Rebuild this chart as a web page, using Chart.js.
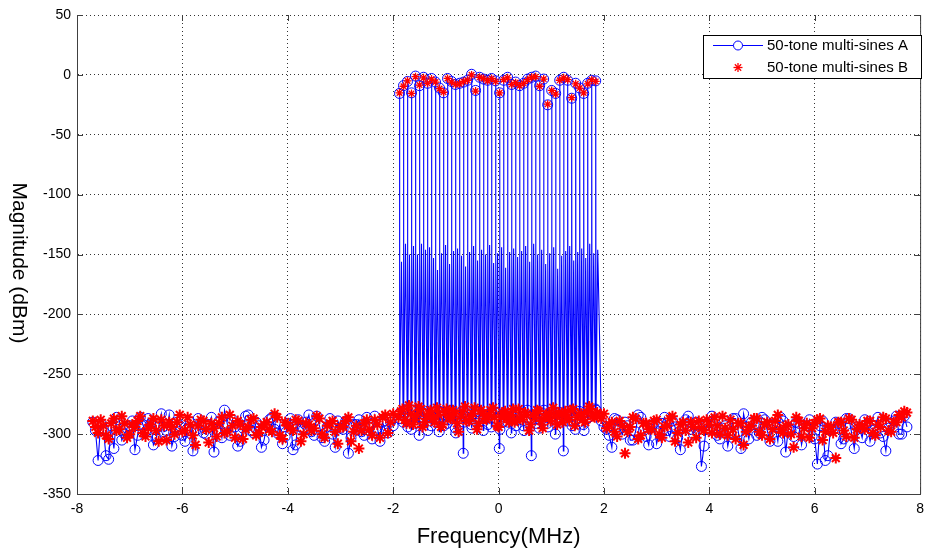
<!DOCTYPE html>
<html>
<head>
<meta charset="utf-8">
<script src="https://cdn.jsdelivr.net/npm/chart.js@4.4.1/dist/chart.umd.min.js"></script>
<style>
  html, body { margin: 0; padding: 0; background: #fff; }
</style>
</head>
<body>
<canvas id="chart1" width="931" height="556"></canvas>
<script>
// tone frequencies (MHz) and tone levels (dBm)
const toneFreq = [-1.880,-1.804,-1.728,-1.652,-1.576,-1.500,-1.424,-1.348,-1.272,-1.196,
  -1.120,-1.044,-0.968,-0.892,-0.816,-0.740,-0.664,-0.588,-0.512,-0.436,
  -0.360,-0.284,-0.208,-0.132,-0.056,0.020,0.096,0.172,0.248,0.324,
  0.400,0.476,0.552,0.628,0.704,0.780,0.856,0.932,1.008,1.084,
  1.160,1.236,1.312,1.388,1.464,1.540,1.616,1.692,1.768,1.844];
const toneA = [-15.5,-9,-5.5,-15,-1,-9,-2,-7,-3,-6,
  -11,-15,-3,-5.5,-8,-7,-6,-4.5,0.5,-13,
  -2,-3.5,-4.5,-3,-5,-15,-4.5,-2,-8,-6,
  -9,-7,-3.5,-2,-1,-9,-3.5,-25,-13,-15.5,
  -4.5,-2,-4.5,-19.5,-7,-11,-15.5,-7,-4.5,-5];
const toneB = [-15,-9.5,-5,-15.5,-1.5,-8.5,-2.5,-7,-3.5,-6,
  -11.5,-14.5,-3,-6,-8,-7.5,-5.5,-4.5,0,-13.5,
  -2,-3,-5,-3,-5.5,-15,-4,-2.5,-8,-6.5,
  -9,-7,-4,-2,-1.5,-9.5,-3.5,-24.5,-13,-16,
  -4.5,-2.5,-4,-19,-7.5,-11,-15,-7.5,-4,-5.5];
// leakage bins between the tones (series A)
const leakA = [-156,-141,-150,-143,-150,-141,-146,-144,-153,-163,
  -149,-142,-158,-147,-145,-151,-160,-148,-143,-155,
  -146,-150,-142,-157,-149,-144,-161,-148,-145,-152,
  -147,-143,-156,-141,-150,-146,-158,-149,-144,-162,
  -151,-147,-143,-155,-148,-145,-153,-141,-149,-146];
// noise floor bins inside the band (just below / above each tone)
const bandLowA = [-283,-290,-279,-296,-285,-301,-288,-281,-293,-286,
  -298,-284,-291,-280,-295,-287,-316,-283,-292,-289,
  -281,-297,-286,-294,-282,-312,-290,-285,-299,-284,
  -288,-293,-280,-318,-287,-295,-283,-291,-286,-300,
  -282,-314,-289,-285,-296,-281,-292,-287,-283,-279];
const bandLow2A = [-287,-282,-294,-280,-291,-286,-283,-297,-285,-290,
  -281,-293,-288,-284,-299,-282,-290,-286,-295,-283,
  -289,-284,-292,-281,-287,-296,-283,-290,-285,-293,
  -282,-297,-286,-284,-291,-288,-280,-294,-287,-283,
  -290,-285,-281,-293,-288,-284,-297,-286,-282,-280];
const bandLowB = [-281,-288,-276,-292,-284,-279,-290,-283,-287,-278,
  -294,-282,-286,-280,-291,-285,-277,-289,-283,-296,
  -280,-287,-284,-278,-293,-286,-281,-290,-279,-288,
  -285,-282,-297,-284,-280,-289,-286,-283,-278,-292,
  -284,-281,-288,-279,-286,-283,-290,-277,-285,-282];
const bandLowB2 = [-286,-279,-291,-283,-288,-277,-294,-285,-280,-290,
  -284,-292,-279,-287,-283,-298,-281,-289,-285,-278,
  -291,-283,-288,-280,-286,-294,-282,-287,-284,-290,
  -279,-288,-284,-292,-286,-281,-295,-283,-289,-285,
  -282,-290,-286,-280,-293,-284,-288,-282,-279,-286];
// noise floor outside the band, two interleaved frequency grids
const noiseFreqA = [-7.7,-7.6,-7.5,-7.4,-7.3,-7.2,-7.1,-7.0,-6.9,-6.8,
  -6.7,-6.6,-6.5,-6.4,-6.3,-6.2,-6.1,-6.0,-5.9,-5.8,
  -5.7,-5.6,-5.5,-5.4,-5.3,-5.2,-5.1,-5.0,-4.9,-4.8,
  -4.7,-4.6,-4.5,-4.4,-4.3,-4.2,-4.1,-4.0,-3.9,-3.8,
  -3.7,-3.6,-3.5,-3.4,-3.3,-3.2,-3.1,-3.0,-2.9,-2.8,
  -2.7,-2.6,-2.5,-2.4,-2.3,-2.2,-2.1,-2.0,
  1.95,2.05,2.15,2.25,2.35,2.45,2.55,2.65,2.75,2.85,
  2.95,3.05,3.15,3.25,3.35,3.45,3.55,3.65,3.75,3.85,
  3.95,4.05,4.15,4.25,4.35,4.45,4.55,4.65,4.75,4.85,
  4.95,5.05,5.15,5.25,5.35,5.45,5.55,5.65,5.75,5.85,
  5.95,6.05,6.15,6.25,6.35,6.45,6.55,6.65,6.75,6.85,
  6.95,7.05,7.15,7.25,7.35,7.45,7.55,7.65,7.75];
const noiseFreqB = [-7.65,-7.55,-7.45,-7.35,-7.25,-7.15,-7.05,-6.95,-6.85,-6.75,
  -6.65,-6.55,-6.45,-6.35,-6.25,-6.15,-6.05,-5.95,-5.85,-5.75,
  -5.65,-5.55,-5.45,-5.35,-5.25,-5.15,-5.05,-4.95,-4.85,-4.75,
  -4.65,-4.55,-4.45,-4.35,-4.25,-4.15,-4.05,-3.95,-3.85,-3.75,
  -3.65,-3.55,-3.45,-3.35,-3.25,-3.15,-3.05,-2.95,-2.85,-2.75,
  -2.65,-2.55,-2.45,-2.35,-2.25,-2.15,-2.05,
  2.0,2.1,2.2,2.3,2.4,2.5,2.6,2.7,2.8,2.9,
  3.0,3.1,3.2,3.3,3.4,3.5,3.6,3.7,3.8,3.9,
  4.0,4.1,4.2,4.3,4.4,4.5,4.6,4.7,4.8,4.9,
  5.0,5.1,5.2,5.3,5.4,5.5,5.6,5.7,5.8,5.9,
  6.0,6.1,6.2,6.3,6.4,6.5,6.6,6.7,6.8,6.9,
  7.0,7.1,7.2,7.3,7.4,7.5,7.6,7.7];
// series A noise on grid A and on grid B
const noiseA = [-290,-322,-296,-321,-312,-288,-300,-293,-313,-286,
  -298,-291,-304,-283,-297,-310,-290,-301,-295,-314,
  -287,-299,-292,-315,-289,-280,-301,-294,-306,-285,
  -297,-290,-311,-293,-286,-299,-308,-291,-313,-288,
  -296,-284,-301,-293,-306,-287,-311,-295,-289,-303,
  -292,-298,-286,-304,-295,-290,-299,-293,
  -289,-296,-311,-288,-300,-293,-305,-284,-297,-309,
  -291,-299,-286,-302,-294,-313,-288,-296,-290,-327,
  -292,-285,-301,-295,-310,-287,-298,-283,-304,-292,
  -299,-288,-306,-294,-286,-315,-297,-290,-309,-293,
  -302,-325,-289,-318,-296,-291,-304,-287,-312,-295,
  -288,-306,-293,-299,-314,-291,-285,-300,-294];
const noiseA2 = [-297,-291,-318,-293,-286,-305,-295,-289,-301,-292,
  -287,-309,-294,-298,-284,-302,-293,-306,-290,-297,
  -292,-300,-286,-296,-303,-291,-288,-310,-295,-284,
  -299,-293,-305,-288,-296,-292,-302,-287,-309,-294,
  -290,-298,-285,-303,-294,-300,-289,-296,-316,-292,
  -288,-301,-294,-285,-306,-297,-290,
  -294,-301,-287,-296,-290,-305,-298,-286,-302,-293,
  -308,-291,-297,-289,-303,-295,-285,-300,-292,-310,
  -296,-288,-304,-293,-299,-287,-312,-294,-290,-301,
  -286,-297,-292,-306,-289,-295,-302,-291,-298,-288,
  -304,-293,-322,-296,-290,-308,-287,-299,-294,-303,
  -291,-297,-286,-302,-295,-289,-300,-285];
// series B noise on grid B and on grid A
const noiseB = [-294,-288,-301,-291,-297,-285,-303,-292,-289,-299,
  -295,-287,-306,-293,-290,-300,-284,-297,-292,-309,
  -288,-296,-291,-302,-286,-298,-293,-289,-304,-294,
  -287,-299,-292,-296,-283,-301,-290,-295,-288,-306,
  -291,-297,-285,-300,-293,-289,-308,-294,-286,-298,
  -312,-291,-296,-288,-303,-284,-290,
  -283,-292,-298,-289,-316,-294,-287,-301,-291,-296,
  -288,-303,-293,-285,-299,-290,-307,-294,-289,-297,
  -292,-286,-300,-295,-288,-304,-291,-298,-293,-287,
  -301,-290,-296,-284,-299,-292,-311,-289,-295,-303,
  -291,-287,-298,-294,-320,-290,-302,-288,-296,-293,
  -289,-299,-292,-286,-297,-290,-284,-281];
const noiseB2 = [-289,-299,-293,-304,-287,-296,-291,-300,-294,-285,
  -302,-292,-297,-288,-305,-294,-290,-298,-286,-301,
  -293,-289,-307,-295,-291,-299,-284,-303,-292,-296,
  -288,-301,-294,-290,-298,-286,-304,-293,-297,-289,
  -300,-292,-295,-287,-303,-291,-298,-294,-289,-306,
  -293,-297,-288,-301,-292,-286,-299,-283,
  -287,-295,-290,-302,-293,-298,-286,-304,-291,-296,
  -289,-300,-294,-287,-306,-292,-297,-290,-303,-295,
  -288,-299,-293,-285,-301,-296,-291,-309,-294,-287,
  -298,-292,-304,-289,-296,-293,-300,-286,-302,-291,
  -295,-288,-305,-293,-299,-290,-297,-287,-303,-292,
  -296,-289,-301,-294,-287,-298,-290,-286,-282];

const labelA = '50-tone multi-sines A';
const labelB = '50-tone multi-sines B';

// series A: noise floor, then per tone: floor -> tone -> floor -> leakage bin
const ptsA = noiseFreqA.map((f, i) => ({x: f, y: noiseA[i]}))
    .concat(noiseFreqB.map((f, i) => ({x: f, y: noiseA2[i]})));
toneFreq.forEach((f, i) => {
    ptsA.push({x: f - 0.006, y: bandLowA[i]});
    ptsA.push({x: f, y: toneA[i]});
    ptsA.push({x: f + 0.006, y: bandLow2A[i]});
    ptsA.push({x: f + 0.038, y: leakA[i]});
});
ptsA.sort((a, b) => a.x - b.x);

const ptsB = noiseFreqB.map((f, i) => ({x: f, y: noiseB[i]}))
    .concat(noiseFreqA.map((f, i) => ({x: f, y: noiseB2[i]})));
toneFreq.forEach((f, i) => {
    ptsB.push({x: f, y: toneB[i]});
    ptsB.push({x: f - 0.019, y: bandLowB2[i]});
    ptsB.push({x: f + 0.028, y: bandLowB[i]});
});
ptsB.sort((a, b) => a.x - b.x);

const FONT = 'Liberation Sans, Arial, sans-serif';

function line(ctx, x1, y1, x2, y2) {
    ctx.beginPath();
    ctx.moveTo(x1, y1);
    ctx.lineTo(x2, y2);
    ctx.stroke();
}

function star(ctx, cx, cy, r) {
    const d = r * Math.SQRT1_2;
    line(ctx, cx - r, cy, cx + r, cy);
    line(ctx, cx, cy - r, cx, cy + r);
    line(ctx, cx - d, cy - d, cx + d, cy + d);
    line(ctx, cx - d, cy + d, cx + d, cy - d);
}

const overlay = {
    id: 'overlay',
    afterDraw(chart) {
        const {ctx, chartArea: a, scales: {x, y}} = chart;
        ctx.save();
        ctx.strokeStyle = '#404040';
        ctx.lineWidth = 1;
        line(ctx, a.right + 0.5, a.top, a.right + 0.5, a.bottom);

        // inward tick marks
        y.ticks.forEach(t => {
            const py = Math.round(y.getPixelForValue(t.value)) + 0.5;
            line(ctx, a.left, py, a.left + 6, py);
            line(ctx, a.right - 6, py, a.right, py);
        });
        x.ticks.forEach(t => {
            const px = Math.round(x.getPixelForValue(t.value)) + 0.5;
            line(ctx, px, a.bottom, px, a.bottom - 6);
            line(ctx, px, a.top, px, a.top + 6);
        });

        // axis titles
        ctx.fillStyle = '#000';
        ctx.textAlign = 'center';
        ctx.textBaseline = 'middle';
        ctx.font = '22px ' + FONT;
        ctx.fillText('Frequency(MHz)', (a.left + a.right) / 2, 537);
        ctx.save();
        ctx.translate(19, 263);
        ctx.rotate(Math.PI / 2);
        ctx.font = '21px ' + FONT;
        ctx.fillText('Magnitude (dBm)', 0, 0);
        ctx.restore();

        // legend box
        const lx = 703.5, ly = 35.5, lw = 218, lh = 43;
        ctx.fillStyle = '#fff';
        ctx.fillRect(lx, ly, lw, lh);
        ctx.strokeStyle = '#000';
        ctx.strokeRect(lx, ly, lw, lh);

        ctx.strokeStyle = '#0000ff';
        line(ctx, 713, 45.5, 763, 45.5);
        ctx.beginPath();
        ctx.arc(738, 45.5, 4.5, 0, Math.PI * 2);
        ctx.fillStyle = '#fff';
        ctx.fill();
        ctx.stroke();

        ctx.strokeStyle = '#ff0000';
        ctx.lineWidth = 1.3;
        star(ctx, 738, 67.5, 4.5);

        ctx.fillStyle = '#000';
        ctx.textAlign = 'left';
        ctx.font = '15px ' + FONT;
        ctx.fillText(labelA, 767, 46);
        ctx.fillText(labelB, 767, 68);
        ctx.restore();
    }
};

// tone markers stay small so the circles of A remain visible round them
const isTone = c => c.raw && c.raw.y > -100;

const ctx1 = document.getElementById('chart1').getContext('2d');
const chart1 = new Chart(ctx1, {
    type: 'scatter',
    data: {
        datasets: [{
            label: labelA,
            data: ptsA,
            showLine: true,
            borderColor: '#0000ff',
            borderWidth: 1.1,
            tension: 0,
            pointStyle: 'circle',
            pointRadius: c => (c.raw && c.raw.y > -250 && c.raw.y < -100) ? 0 : 5,
            pointBorderColor: '#0000ff',
            pointBackgroundColor: 'rgba(0,0,0,0)',
            pointBorderWidth: 1,
            order: 1
        }, {
            label: labelB,
            data: ptsB,
            showLine: false,
            pointStyle: 'star',
            pointRadius: c => isTone(c) ? 4 : 5.5,
            pointBorderColor: '#ff0000',
            pointBackgroundColor: '#ff0000',
            pointBorderWidth: c => isTone(c) ? 1.3 : 2,
            order: 0
        }]
    },
    options: {
        responsive: false,
        animation: false,
        events: [],
        layout: {
            padding: {left: 0, right: 5, top: 15, bottom: 0}
        },
        plugins: {
            legend: {display: false},
            tooltip: {enabled: false}
        },
        scales: {
            x: {
                type: 'linear',
                min: -8,
                max: 8,
                ticks: {
                    stepSize: 2,
                    color: '#000',
                    padding: 7,
                    maxRotation: 0,
                    font: {family: FONT, size: 14}
                },
                grid: {color: '#333', lineWidth: 1, drawTicks: false},
                border: {display: true, color: '#404040', dash: [1, 3]},
                afterFit: s => { s.height = 62; }
            },
            y: {
                min: -350,
                max: 50,
                ticks: {
                    stepSize: 50,
                    color: '#000',
                    padding: 6,
                    font: {family: FONT, size: 14}
                },
                grid: {color: '#333', lineWidth: 1, drawTicks: false},
                border: {display: true, color: '#404040', dash: [1, 3]},
                afterFit: s => { s.width = 77; }
            }
        }
    },
    plugins: [overlay]
});
</script>
</body>
</html>
